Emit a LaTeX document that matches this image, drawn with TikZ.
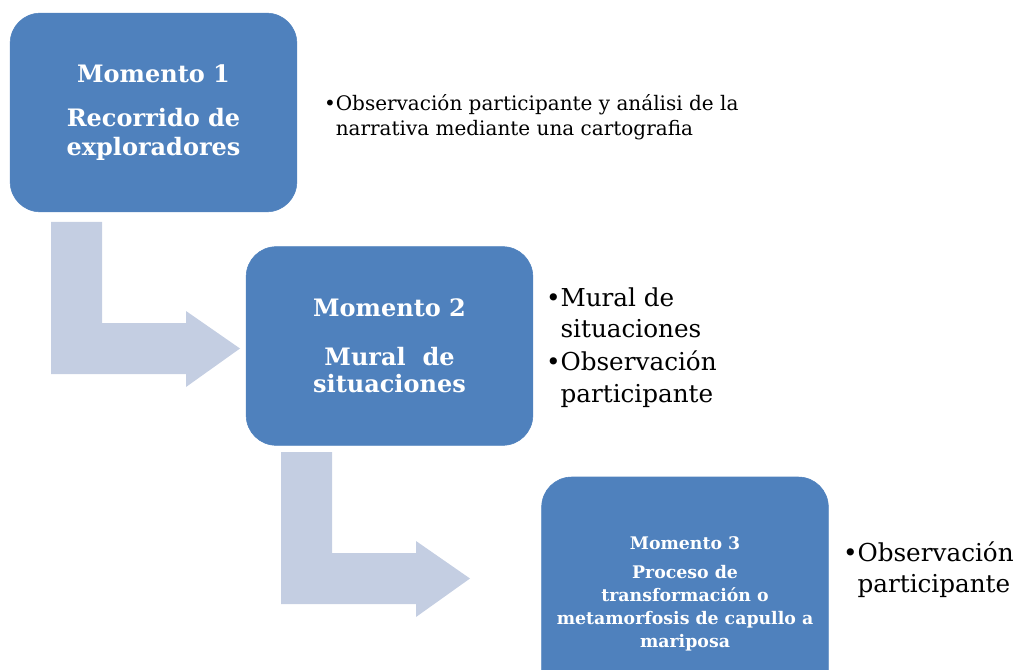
\documentclass[tikz,border=0pt]{standalone}
\usepackage{fontspec}
\setmainfont{DejaVu Serif}
\usepackage{xcolor}
\usetikzlibrary{positioning}
\definecolor{boxblue}{RGB}{79,129,189}
\definecolor{arrowgray}{RGB}{196,206,226}
\tikzset{
	momento/.style={
			draw=boxblue, fill=boxblue, rounded corners=22.5pt,
			text=white, align=center, inner sep=0pt, outer sep=0pt,
			minimum width=215pt, minimum height=149pt
		},
	nota/.style={anchor=base west, inner sep=0pt, outer sep=0pt},
	bentarrow/.style={fill=arrowgray, draw=none}
}

\begin{document}
\begin{tikzpicture}[x=0.75pt, y=-0.75pt]
		\clip (0,0) rectangle (1016,670);

		% Bent arrows (drawn first, under the boxes)
		\fill[bentarrow, shift={(51,222)}] (0,0) -- (51,0) -- (51,101) -- (135,101) -- (135,89)
			-- (189,126.5) -- (135,165) -- (135,152) -- (0,152) -- cycle;
		\fill[bentarrow, shift={(281,452)}] (0,0) -- (51,0) -- (51,101) -- (135,101) -- (135,89)
			-- (189,126.5) -- (135,165) -- (135,152) -- (0,152) -- cycle;

		% Moments
		\node[momento, font=\bfseries\fontsize{18}{21.4}\selectfont] (m1) at (153.5,112.5)
			{Momento 1\\[11.6pt]Recorrido de\\exploradores};
		\node[momento, font=\bfseries\fontsize{18}{20.25}\selectfont] (m2) at (389.5,346)
			{Momento 2\\[16.5pt]Mural~ de\\situaciones};
		\node[momento, minimum height=174.75pt, font=\bfseries\fontsize{13}{17.25}\selectfont] (m3) at (685,593.5)
			{Momento 3\\[4.5pt]Proceso de\\transformación o\\metamorfosis de capullo a\\mariposa};

		% Notes
		\node[nota, font=\fontsize{15}{18.5}\selectfont] (n1) at (324,111)
			{\begin{tabular}[t]{@{}l@{}l@{}}•&Observación participante y análisi de la\\&narrativa mediante una cartografia\end{tabular}};
		\node[nota, font=\fontsize{18.5}{23.5}\selectfont] (n2) at (546,306)
			{\begin{tabular}[t]{@{}l@{}l@{}}•&Mural de\\&situaciones\\[1.5pt]•&Observación\\&participante\end{tabular}};
		\node[nota, font=\fontsize{18.5}{23.25}\selectfont] (n3) at (843,561)
			{\begin{tabular}[t]{@{}l@{}l@{}}•&Observación\\&participante\end{tabular}};
	\end{tikzpicture}
\end{document}
